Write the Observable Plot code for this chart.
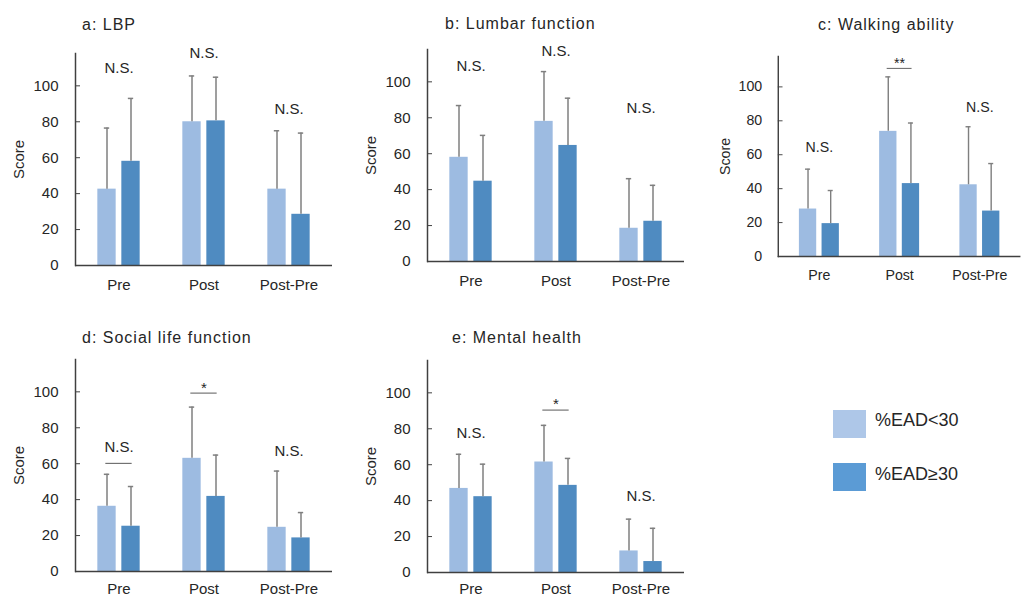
<!DOCTYPE html>
<html><head><meta charset="utf-8">
<script src="https://cdn.jsdelivr.net/npm/d3@7"></script>
<script src="https://cdn.jsdelivr.net/npm/@observablehq/plot@0.6"></script>
<style>
html,body{margin:0;padding:0;background:#fff;}
body{width:1028px;height:596px;overflow:hidden;position:relative;font-family:"Liberation Sans",Arial,sans-serif;color:#262626;}
.panel{position:absolute;}
.title{position:absolute;font-size:16px;line-height:16px;letter-spacing:1px;white-space:nowrap;}
.sw{position:absolute;width:33px;height:28px;}
.lg{position:absolute;font-size:18px;line-height:18px;white-space:nowrap;}
</style></head><body>
<script>
// ---- data ----
const categories = ["Pre", "Post", "Post-Pre"];
const groups = ["%EAD<30", "%EAD≥30"];
const panelTitles = ["a: LBP", "b: Lumbar function", "c: Walking ability", "d: Social life function", "e: Mental health"];
const yTicks = [0, 20, 40, 60, 80, 100];

// means and SDs, per category (Pre, Post, Post-Pre)
const lbpLowMean = [42.5, 80, 42.5],   lbpLowSD = [34, 25.5, 32.5];
const lbpHighMean = [58, 80.5, 28.5],  lbpHighSD = [35, 24.3, 45.2];
const lumLowMean = [58, 78, 18.5],     lumLowSD = [28.8, 27.7, 27.6];
const lumHighMean = [44.7, 64.6, 22.4], lumHighSD = [25.5, 26.3, 20];
const walkLowMean = [28, 73.8, 42.3],  walkLowSD = [23.5, 32.1, 34.2];
const walkHighMean = [19.4, 43, 26.8], walkHighSD = [19.5, 35.7, 28];
const socLowMean = [36.3, 63, 24.6],   socLowSD = [17.8, 28.5, 31.3];
const socHighMean = [25.2, 41.8, 18.7], socHighSD = [22.1, 23, 14.1];
const menLowMean = [46.8, 61.5, 12],   menLowSD = [19, 20.4, 17.7];
const menHighMean = [42.2, 48.5, 6.1], menHighSD = [18.1, 15, 18.5];

// significance labels (text, label height, optional bracket height in score units)
const lbpSig = [["N.S.", 110, null], ["N.S.", 118, null], ["N.S.", 87, null]];
const lumSig = [["N.S.", 108.5, null], ["N.S.", 117, null], ["N.S.", 85.4, null]];
const walkSig = [["N.S.", 64.4, null], ["**", 114, 110.9], ["N.S.", 87.6, null]];
const socSig = [["N.S.", 69, 60.2], ["*", 102, 99.3], ["N.S.", 67, null]];
const menSig = [["N.S.", 77.4, null], ["*", 93.7, 90.4], ["N.S.", 42.6, null]];

// ---- build ----
const panels = [
  [lbpLowMean, lbpLowSD, lbpHighMean, lbpHighSD, lbpSig],
  [lumLowMean, lumLowSD, lumHighMean, lumHighSD, lumSig],
  [walkLowMean, walkLowSD, walkHighMean, walkHighSD, walkSig],
  [socLowMean, socLowSD, socHighMean, socHighSD, socSig],
  [menLowMean, menLowSD, menHighMean, menHighSD, menSig]
];
const layout = [
  {left: 0, top: 33, tx: 82, ty: 17, pad: 14},
  {left: 352, top: 29, tx: 445, ty: 16, pad: 14},
  {left: 707, top: 37, tx: 818, ty: 17, pad: 14},
  {left: 0, top: 339, tx: 82, ty: 330, pad: 12},
  {left: 352, top: 340, tx: 452, ty: 330, pad: 11}
];
const barColors = ["#9DBBE1", "#4F8BC1"];
const legendColors = ["#AEC7E8", "#5B9BD5"];
const errColor = "#7F7F7F";
const W = 340, ML = 75, MR = 8, MT = 20, MB = 40, H = 272;
const bw = (W - ML - MR) / categories.length;
const barW = 19, off = 12;
const side = (bw - barW) / 2;

panels.forEach(([lm, ls, hm, hs, sig], i) => {
  const rows = [];
  categories.forEach((c, j) => {
    rows.push({cat: c, grp: groups[0], mean: lm[j], sd: ls[j]});
    rows.push({cat: c, grp: groups[1], mean: hm[j], sd: hs[j]});
  });
  const sigRows = sig.map((s, j) => ({cat: categories[j], label: s[0], y: s[1], line: s[2]}));
  const lineRows = sigRows.filter(d => d.line != null);
  const groupMarks = groups.flatMap((g, k) => {
    const d = rows.filter(r => r.grp === g);
    const dx = k === 0 ? -off : off;
    return [
      Plot.barY(d, {x: "cat", y: "mean", fill: "grp", dx, insetLeft: side, insetRight: side}),
      Plot.ruleX(d, {x: "cat", y1: "mean", y2: r => r.mean + r.sd, dx, stroke: errColor, strokeWidth: 1.5}),
      Plot.tickY(d, {x: "cat", y: r => r.mean + r.sd, dx, insetLeft: (bw - 6) / 2, insetRight: (bw - 6) / 2, stroke: errColor, strokeWidth: 1.5})
    ];
  });
  const chart = Plot.plot({
    width: W, height: H, marginLeft: ML, marginRight: MR, marginTop: MT, marginBottom: MB,
    style: {fontFamily: '"Liberation Sans", Arial, sans-serif', fontSize: "15px", color: "#262626", background: "transparent", overflow: "visible"},
    x: {domain: categories, padding: 0},
    y: {domain: [0, 118]},
    color: {domain: groups, range: barColors},
    marks: [
      ...groupMarks,
      Plot.tickY(lineRows, {x: "cat", y: "line", stroke: "#595959", strokeWidth: 1, insetLeft: (bw - 27) / 2, insetRight: (bw - 27) / 2}),
      Plot.text(sigRows, {x: "cat", y: "y", text: "label", fontSize: 15, fill: "#262626"}),
      Plot.ruleY([0], {stroke: "#404040", strokeWidth: 1.5}),
      Plot.frame({anchor: "left", stroke: "#404040", strokeWidth: 1.5}),
      Plot.axisY({ticks: yTicks, tickSize: -5, tickPadding: 22, stroke: "#404040", label: "Score", labelAnchor: "center", labelArrow: "none", labelOffset: 62, fontSize: 15}),
      Plot.axisX({tickSize: 0, tickPadding: layout[i].pad, label: null, fontSize: 15})
    ]
  });
  const div = document.createElement("div");
  div.className = "panel";
  div.style.left = layout[i].left + "px";
  div.style.top = layout[i].top + "px";
  div.appendChild(chart);
  document.body.appendChild(div);
  const t = document.createElement("div");
  t.className = "title";
  t.style.left = layout[i].tx + "px";
  t.style.top = layout[i].ty + "px";
  t.textContent = panelTitles[i];
  document.body.appendChild(t);
});

// legend
groups.forEach((g, k) => {
  const sw = document.createElement("div");
  sw.className = "sw";
  sw.style.left = "833px";
  sw.style.top = (k === 0 ? 410 : 463) + "px";
  sw.style.background = legendColors[k];
  document.body.appendChild(sw);
  const t = document.createElement("div");
  t.className = "lg";
  t.style.left = "875px";
  t.style.top = (k === 0 ? 411 : 465) + "px";
  t.textContent = g;
  document.body.appendChild(t);
});
</script>
</body></html>
